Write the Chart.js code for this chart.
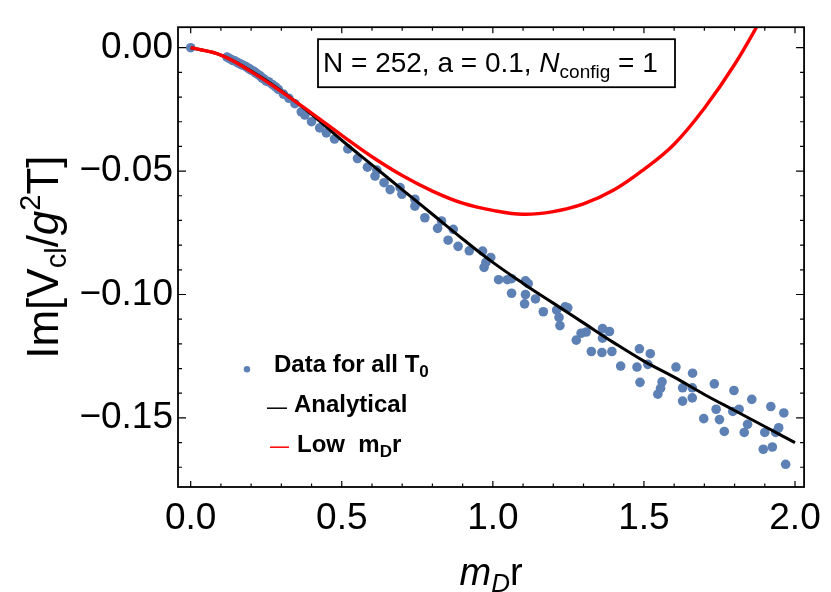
<!DOCTYPE html>
<html>
<head>
<meta charset="utf-8">
<script src="https://cdn.jsdelivr.net/npm/chart.js@4.4.0/dist/chart.umd.min.js"></script>
<style>
  html, body { margin: 0; padding: 0; background: #fff; }
</style>
</head>
<body>
<canvas id="plot" width="831" height="592"></canvas>
<script>
// Im V / (g^2 T) vs m_D r: lattice data, full analytical curve and the small-r expansion

const dataX = [
  0, 0.12, 0.127, 0.135, 0.145, 0.155, 0.165, 0.175, 0.182, 0.195,
  0.209, 0.222, 0.236, 0.25, 0.258, 0.28, 0.307, 0.325, 0.345, 0.366,
  0.378, 0.4, 0.427, 0.449, 0.476, 0.52, 0.552, 0.585, 0.616, 0.61,
  0.64, 0.66, 0.693, 0.699, 0.742, 0.742, 0.775, 0.83, 0.817, 0.869,
  0.852, 0.885, 0.922, 0.966, 0.993, 0.977, 0.971, 1.019, 1.048, 1.062,
  1.062, 1.108, 1.117, 1.108, 1.105, 1.141, 1.167, 1.211, 1.219, 1.222,
  1.239, 1.248, 1.276, 1.292, 1.309, 1.363, 1.386, 1.363, 1.326, 1.361,
  1.394, 1.423, 1.485, 1.521, 1.477, 1.513, 1.487, 1.56, 1.555, 1.546,
  1.606, 1.661, 1.628, 1.66, 1.628, 1.66, 1.733, 1.739, 1.698, 1.75,
  1.766, 1.798, 1.794, 1.815, 1.843, 1.832, 1.857, 1.895, 1.9, 1.92,
  1.925, 1.936, 1.946, 1.963, 1.969,
  0.14, 0.16, 0.17, 0.19, 0.2, 0.215, 0.23, 0.243, 0.27, 0.29
];
const dataY = [
  0, -0.0038, -0.0043, -0.0048, -0.0053, -0.006, -0.0066, -0.0072, -0.0076, -0.0086,
  -0.0096, -0.0108, -0.0122, -0.0135, -0.0138, -0.0158, -0.0188, -0.0205, -0.0227, -0.026,
  -0.0273, -0.03, -0.0325, -0.0345, -0.037, -0.041, -0.0449, -0.0484, -0.0496, -0.052,
  -0.0547, -0.0575, -0.0567, -0.0594, -0.0614, -0.0642, -0.0689, -0.0702, -0.0732, -0.0736,
  -0.078, -0.0805, -0.0823, -0.0824, -0.085, -0.087, -0.089, -0.094, -0.094, -0.0936,
  -0.0995, -0.0945, -0.0956, -0.1, -0.1038, -0.1018, -0.107, -0.1063, -0.1093, -0.1126,
  -0.105, -0.1054, -0.1185, -0.1157, -0.1152, -0.1138, -0.115, -0.1177, -0.1231, -0.1235,
  -0.1231, -0.129, -0.122, -0.124, -0.1294, -0.1283, -0.1356, -0.1354, -0.138, -0.1404,
  -0.1294, -0.1319, -0.1378, -0.1378, -0.1432, -0.1419, -0.1362, -0.1465, -0.1503, -0.1507,
  -0.1555, -0.1389, -0.1474, -0.1465, -0.1526, -0.1559, -0.1425, -0.1627, -0.1559, -0.1454,
  -0.1618, -0.1559, -0.154, -0.148, -0.1688,
  -0.0052, -0.0064, -0.007, -0.0083, -0.0091, -0.0102, -0.0114, -0.0127, -0.0149, -0.0169
];

const curveX = [0, 0.1, 0.2, 0.3, 0.4, 0.5, 0.6, 0.7, 0.8, 0.9, 1.0,
                1.1, 1.2, 1.3, 1.4, 1.5, 1.6, 1.7, 1.8, 1.9, 2.0];
const analytical = [0, -0.003, -0.0095, -0.0175, -0.027, -0.0375, -0.0475, -0.0575, -0.0675, -0.0775, -0.087,
                    -0.0955, -0.1035, -0.1115, -0.1195, -0.127, -0.1335, -0.1405, -0.147, -0.1535, -0.16];

const lowX = [0, 0.1, 0.2, 0.3, 0.4, 0.5, 0.6, 0.7, 0.8, 0.9, 1.0,
              1.1, 1.2, 1.3, 1.4, 1.5, 1.6, 1.7, 1.8, 1.9];
const lowMdr = [0, -0.003, -0.0097, -0.0178, -0.0265, -0.0355, -0.0442, -0.0518, -0.0581, -0.063, -0.0659,
                -0.0675, -0.0664, -0.0633, -0.0577, -0.0493, -0.0391, -0.0245, -0.0068, 0.0142];

const xTicks = [0, 0.5, 1.0, 1.5, 2.0];
const yTicks = [0, -0.05, -0.10, -0.15];

const FONT = '"Liberation Sans", Arial, sans-serif';
const dotColor = '#5E81B5';

function pairs(xs, ys) {
  return ys.map((y, i) => ({x: xs[i], y: y}));
}

// draws a list of text pieces one after another, returns the total width
function drawRuns(ctx, runs, x, y, measureOnly) {
  let cx = x;
  for (const r of runs) {
    ctx.font = r.font;
    if (!measureOnly) ctx.fillText(r.t, cx, y + (r.dy || 0));
    cx += ctx.measureText(r.t).width;
  }
  return cx - x;
}

const framePlugin = {
  id: 'frame',
  afterDraw(chart) {
    const ctx = chart.ctx;
    const a = chart.chartArea;
    const xs = chart.scales.x, ys = chart.scales.y;
    ctx.save();

    // frame
    ctx.strokeStyle = '#000';
    ctx.lineWidth = 1.8;
    ctx.strokeRect(a.left, a.top, a.right - a.left, a.bottom - a.top);

    // inward ticks on all four sides
    ctx.lineWidth = 1.2;
    ctx.beginPath();
    for (let i = 0; i <= 20; i++) {
      const px = xs.getPixelForValue(i / 10);
      const len = i % 5 === 0 ? 6 : 3.5;
      ctx.moveTo(px, a.bottom); ctx.lineTo(px, a.bottom - len);
      ctx.moveTo(px, a.top); ctx.lineTo(px, a.top + len);
    }
    for (let i = 0; i <= 17; i++) {
      const py = ys.getPixelForValue(-i / 100);
      const len = i % 5 === 0 ? 8 : 4;
      ctx.moveTo(a.left, py); ctx.lineTo(a.left + len, py);
      ctx.moveTo(a.right, py); ctx.lineTo(a.right - len, py);
    }
    ctx.stroke();

    // parameter box
    const bx = a.left + 140, by = a.top + 12;
    ctx.fillStyle = '#fff';
    ctx.fillRect(bx, by, 357, 48);
    ctx.lineWidth = 1.8;
    ctx.strokeRect(bx, by, 357, 48);
    ctx.fillStyle = '#000';
    ctx.textBaseline = 'alphabetic';
    ctx.textAlign = 'left';
    drawRuns(ctx, [
      {t: 'N = 252, a = 0.1, ', font: '28px ' + FONT},
      {t: 'N', font: 'italic 28px ' + FONT},
      {t: 'config', font: '19px ' + FONT, dy: 6},
      {t: ' = 1', font: '28px ' + FONT}
    ], bx + 5, by + 33);

    // legend
    const lx = a.left, ly = a.top;
    ctx.fillStyle = dotColor;
    ctx.beginPath();
    ctx.arc(lx + 69, ly + 342, 3.2, 0, Math.PI * 2);
    ctx.fill();
    ctx.fillStyle = '#000';
    drawRuns(ctx, [
      {t: 'Data for all T', font: 'bold 24px ' + FONT},
      {t: '0', font: 'bold 17px ' + FONT, dy: 5}
    ], lx + 96, ly + 345);

    ctx.strokeStyle = '#000';
    ctx.lineWidth = 1.5;
    ctx.beginPath();
    ctx.moveTo(lx + 89, ly + 381); ctx.lineTo(lx + 109, ly + 381);
    ctx.stroke();
    drawRuns(ctx, [{t: 'Analytical', font: 'bold 24px ' + FONT}], lx + 116, ly + 385);

    ctx.strokeStyle = '#ff0000';
    ctx.beginPath();
    ctx.moveTo(lx + 92, ly + 420); ctx.lineTo(lx + 111, ly + 420);
    ctx.stroke();
    drawRuns(ctx, [
      {t: 'Low  m', font: 'bold 24px ' + FONT},
      {t: 'D', font: 'bold 17px ' + FONT, dy: 5},
      {t: 'r', font: 'bold 24px ' + FONT}
    ], lx + 119, ly + 425);

    // x axis title
    const xRuns = [
      {t: 'm', font: 'italic 38px ' + FONT},
      {t: 'D', font: 'italic 26px ' + FONT, dy: 7},
      {t: 'r', font: '38px ' + FONT}
    ];
    const xw = drawRuns(ctx, xRuns, 0, 0, true);
    drawRuns(ctx, xRuns, (a.left + a.right) / 2 - xw / 2, 585);

    // y axis title, rotated
    const yRuns = [
      {t: 'Im[V', font: '44px ' + FONT},
      {t: 'cl', font: '29px ' + FONT, dy: 8},
      {t: '/', font: '44px ' + FONT},
      {t: 'g', font: 'italic 44px ' + FONT},
      {t: '2', font: '29px ' + FONT, dy: -18},
      {t: 'T]', font: '44px ' + FONT}
    ];
    const yw = drawRuns(ctx, yRuns, 0, 0, true);
    ctx.translate(58, (a.top + a.bottom) / 2);
    ctx.rotate(-Math.PI / 2);
    drawRuns(ctx, yRuns, -yw / 2, 0);

    ctx.restore();
  }
};

new Chart(document.getElementById('plot'), {
  type: 'scatter',
  data: {
    datasets: [
      {
        label: 'Low m_D r',
        data: pairs(lowX, lowMdr),
        showLine: true,
        borderColor: '#ff0000',
        borderWidth: 3.4,
        pointRadius: 0,
        tension: 0.4,
        order: 0
      },
      {
        label: 'Analytical',
        data: pairs(curveX, analytical),
        showLine: true,
        borderColor: '#000',
        borderWidth: 3,
        pointRadius: 0,
        tension: 0.4,
        order: 1
      },
      {
        label: 'Data for all T0',
        data: pairs(dataX, dataY),
        backgroundColor: dotColor,
        borderWidth: 0,
        pointRadius: 4.8,
        order: 2
      }
    ]
  },
  options: {
    responsive: false,
    animation: false,
    devicePixelRatio: 1,
    layout: { padding: { top: 12, right: 19, left: 0, bottom: 0 } },
    plugins: {
      legend: { display: false },
      tooltip: { enabled: false }
    },
    scales: {
      x: {
        type: 'linear',
        min: -0.042,
        max: 2.03,
        afterBuildTicks: s => { s.ticks = xTicks.map(v => ({value: v})); },
        afterFit: s => { s.height = 105; },
        grid: { display: false, drawTicks: false },
        border: { display: false },
        ticks: {
          color: '#000',
          padding: 10,
          maxRotation: 0,
          font: { family: FONT, size: 37 },
          callback: v => Number(v).toFixed(1)
        }
      },
      y: {
        type: 'linear',
        min: -0.178,
        max: 0.0083,
        afterBuildTicks: s => { s.ticks = yTicks.map(v => ({value: v})); },
        afterFit: s => { s.width = 178; },
        grid: { display: false, drawTicks: false },
        border: { display: false },
        ticks: {
          color: '#000',
          padding: 5,
          font: { family: FONT, size: 37 },
          callback: v => (v < 0 ? '\u2212' : '') + Math.abs(v).toFixed(2)
        }
      }
    }
  },
  plugins: [framePlugin]
});
</script>
</body>
</html>
